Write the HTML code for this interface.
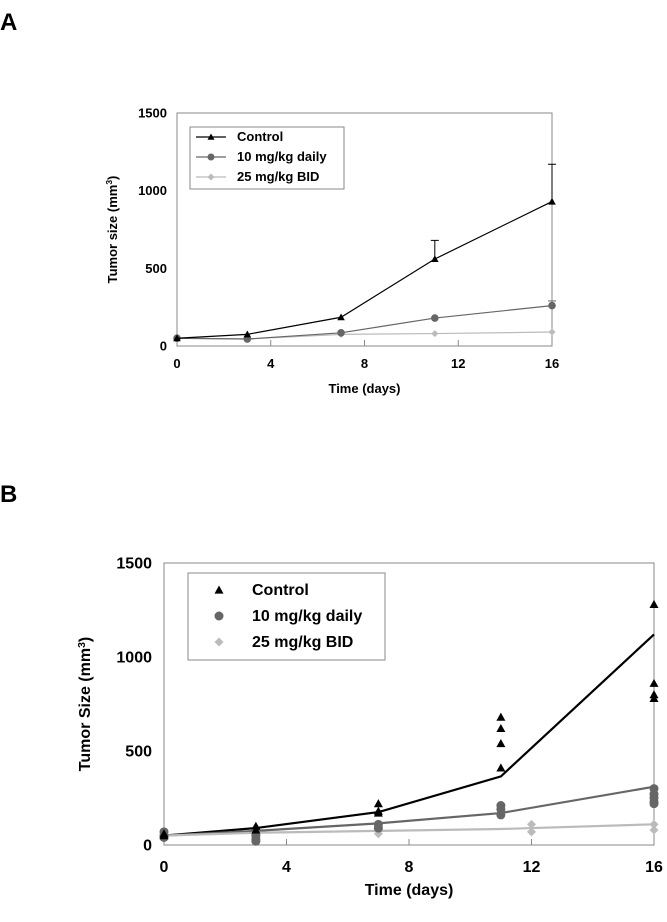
<!DOCTYPE html>
<html><head><meta charset="utf-8"><style>
body{margin:0;background:#fff;font-family:"Liberation Sans",Arial,sans-serif}
svg text{font-family:"Liberation Sans",Arial,sans-serif;font-weight:bold}
</style></head><body>
<svg id="s" width="667" height="917">
<text x="0" y="30" font-size="24">A</text>
<text x="0" y="502" font-size="24">B</text>
<g id="ga"></g>
<g id="gb"></g>
</svg>
<script>
const aDays=[0,3,7,11,16];
const aControl=[50,75,185,560,930];
const aControlErr=[0,0,0,120,240];
const a10=[50,45,85,180,260];
const a10Err=[0,0,0,0,30];
const a25=[50,45,75,80,90];
const xTicks=[0,4,8,12,16];
const yTicks=[0,500,1000,1500];
const bDays=[0,3,7,11,16];
const bControlLine=[50,90,175,365,1120];
const b10Line=[50,75,115,170,310];
const b25Line=[50,65,75,85,110];
const bControlPtsX=[0,0,3,3,7,7,7,11,11,11,11,16,16,16,16];
const bControlPtsY=[50,60,100,80,220,180,170,680,620,540,410,1280,860,800,780];
const b10PtsX=[0,0,0,3,3,3,7,7,11,11,11,16,16,16,16,16];
const b10PtsY=[70,50,40,50,30,20,110,90,210,190,160,300,270,250,230,220];
const b25PtsX=[0,0,3,3,7,7,12,12,16,16];
const b25PtsY=[70,40,60,40,80,60,110,70,110,80];
const NS="http://www.w3.org/2000/svg";
function mk(p,t,a){const e=document.createElementNS(NS,t);for(const k in a)e.setAttribute(k,a[k]);p.appendChild(e);return e;}
function marker(g,type,x,y,r,c){
 let e;
 if(type==='tri')e=mk(g,'polygon',{points:`${x},${y-r} ${x-r},${y+r*0.8} ${x+r},${y+r*0.8}`,fill:c});
 else if(type==='circ')e=mk(g,'circle',{cx:x,cy:y,r:r,fill:c});
 else e=mk(g,'polygon',{points:`${x},${y-r} ${x+r},${y} ${x},${y+r} ${x-r},${y}`,fill:c});
 return e;
}
function chart(g,L,T,R,B,fs,ytitle,tx0,txGap,ttGap,yTitleX,cfg){
 const X=v=>L+v/16*(R-L), Y=v=>B-v/1500*(B-T);
 const f=mk(g,'rect',{x:L,y:T,width:R-L,height:B-T,fill:'none',stroke:'#888','stroke-width':1});
 
 xTicks.forEach(t=>{mk(g,'line',{x1:X(t),x2:X(t),y1:B,y2:B-6,stroke:'#888'});
  const tx=mk(g,'text',{x:X(t),y:B+fs+txGap,'font-size':fs,'text-anchor':'middle'});tx.textContent=t;
  });
 yTicks.forEach(t=>{const tx=mk(g,'text',{x:L-tx0,y:Y(t)+fs*0.35,'font-size':fs,'text-anchor':'end'});tx.textContent=t;
  });
 const xt=mk(g,'text',{x:(L+R)/2,y:B+ttGap,'font-size':fs,'text-anchor':'middle'});xt.textContent='Time (days)';
 
 const cx=yTitleX,cy=(T+B)/2;
 const yt=mk(g,'text',{x:cx,y:cy,'font-size':fs,'text-anchor':'middle',transform:`rotate(-90 ${cx} ${cy})`});
 yt.innerHTML=ytitle+' (mm<tspan dy="-5" font-size="'+(fs*0.65)+'">3</tspan><tspan dy="5">)</tspan>';
 
 cfg(g,X,Y);
}
chart(document.getElementById('ga'),177,113,552,346,13,'Tumor size',10,9,47,117,(g,X,Y)=>{
 const ser=[[aControl,aControlErr,'#000','tri','control'],[a10,a10Err,'#666','circ','10mg'],[a25,null,'#bbb','dia','25mg']];
 ser.slice().reverse().forEach(([v,err,c,m,n])=>{
  const pl=mk(g,'polyline',{points:aDays.map((d,i)=>X(d)+','+Y(v[i])).join(' '),fill:'none',stroke:c,'stroke-width':1.2});
  
  aDays.forEach((d,i)=>{
   if(err&&err[i]){mk(g,'line',{x1:X(d),x2:X(d),y1:Y(v[i]),y2:Y(v[i]+err[i]),stroke:c});mk(g,'line',{x1:X(d)-4,x2:X(d)+4,y1:Y(v[i]+err[i]),y2:Y(v[i]+err[i]),stroke:c});}
   const e=marker(g,m,X(d),Y(v[i]),m==='dia'?3.5:3.8,c);
   
  });
 });
 const lg=mk(g,'g',{});
 mk(lg,'rect',{x:190,y:127,width:154,height:62,fill:'#fff',stroke:'#888'});
 [['Control','#000','tri'],['10 mg/kg daily','#666','circ'],['25 mg/kg BID','#bbb','dia']].forEach(([t,c,m],i)=>{
  const y=137+i*20;mk(lg,'line',{x1:196,x2:226,y1:y,y2:y,stroke:c,'stroke-width':1.2});marker(lg,m,211,y,3.5,c);
  const tx=mk(lg,'text',{x:237,y:y+4,'font-size':13});tx.textContent=t;
  });
});
chart(document.getElementById('gb'),164,563,654,845,16,'Tumor Size',12,11,50,90,(g,X,Y)=>{
 [[bControlLine,'#000','control'],[b10Line,'#666','10mg'],[b25Line,'#bbb','25mg']].forEach(([v,c,n])=>{
  const pl=mk(g,'polyline',{points:bDays.map((d,i)=>X(d)+','+Y(v[i])).join(' '),fill:'none',stroke:c,'stroke-width':2.2});
  });
 [[b25PtsX,b25PtsY,'#bbb','dia','25mg'],[b10PtsX,b10PtsY,'#666','circ','10mg'],[bControlPtsX,bControlPtsY,'#000','tri','control']].forEach(([xs,ys,c,m,n])=>{
  xs.forEach((d,i)=>{const e=marker(g,m,X(d),Y(ys[i]),4.5,c);
   });});
 const lg=mk(g,'g',{});
 mk(lg,'rect',{x:188,y:573,width:197,height:87,fill:'#fff',stroke:'#888'});
 [['Control','#000','tri'],['10 mg/kg daily','#666','circ'],['25 mg/kg BID','#bbb','dia']].forEach(([t,c,m],i)=>{
  const y=590+i*26;marker(lg,m,219,y,4.5,c);
  const tx=mk(lg,'text',{x:252,y:y+5,'font-size':16});tx.textContent=t;
  });
});
</script>
</body></html>
